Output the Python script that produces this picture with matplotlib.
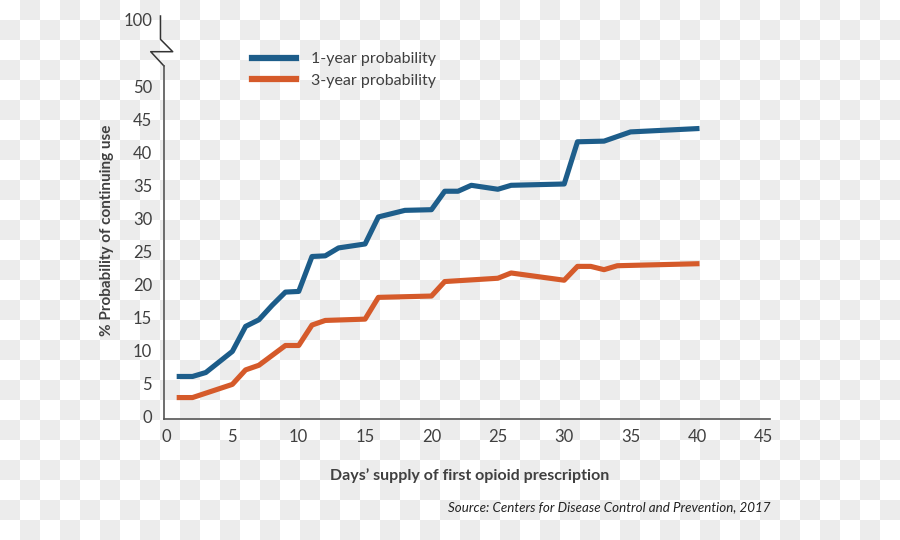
import numpy as np
import matplotlib
matplotlib.use("Agg")
import matplotlib.pyplot as plt

plt.rcParams['font.family'] = ['Lato', 'DejaVu Sans']

# days' supply -> % probability of continuing use
days_1yr = [1, 2, 3, 5, 6, 7, 8, 9, 10, 11, 12, 13, 15, 16, 18, 20, 21, 22, 23, 25, 26, 30, 31, 33, 35, 40]
prob_1yr = [6.0, 6.0, 6.6, 9.8, 13.6, 14.6, 16.8, 18.8, 18.9, 24.2, 24.3, 25.5, 26.1, 30.2, 31.2, 31.3,
            34.1, 34.1, 35.0, 34.4, 35.0, 35.2, 41.6, 41.7, 43.1, 43.6]

days_3yr = [1, 2, 5, 6, 7, 9, 10, 11, 12, 15, 16, 20, 21, 25, 26, 30, 31, 32, 33, 34, 40]
prob_3yr = [2.8, 2.8, 4.8, 7.0, 7.7, 10.7, 10.7, 13.8, 14.5, 14.7, 18.0, 18.2, 20.4, 20.9, 21.7, 20.6,
            22.7, 22.7, 22.2, 22.8, 23.1]

x_ticks = [0, 5, 10, 15, 20, 25, 30, 35, 40, 45]
y_ticks = [0, 5, 10, 15, 20, 25, 30, 35, 40, 45, 50]

blue = '#1d5d8a'
orange = '#d55a2a'
txt = '#404040'

fig = plt.figure(figsize=(9, 5.4), dpi=100)

# checkered background
rows, cols = np.indices((540, 900))
bg = np.where((rows // 20 + cols // 20) % 2 == 1, 0.922, 1.0)
fig.figimage(bg, cmap='gray', vmin=0, vmax=1, zorder=-10)

ax = fig.add_axes([0.1822, 0.2241, 0.6733, 0.6537])
ax.set_facecolor('none')

l1, = ax.plot(days_1yr, prob_1yr, color=blue, lw=3.7, label='1-year probability')
l2, = ax.plot(days_3yr, prob_3yr, color=orange, lw=3.7, label='3-year probability')

ax.set_xlim(-0.15, 45.5)
ax.set_ylim(-0.45, 53.1)
ax.set_xticks(x_ticks)
ax.set_yticks(y_ticks)
ax.tick_params(length=0, labelsize=12, labelcolor=txt)
ax.tick_params(axis='y', pad=8.5)
ax.tick_params(axis='x', pad=7)

for s in ['top', 'right']:
    ax.spines[s].set_visible(False)
for s in ['left', 'bottom']:
    ax.spines[s].set_color('#555555')
    ax.spines[s].set_linewidth(1.2)

# axis break up to 100
ax.plot([0, -0.0219, 0.0144, -0.0058, -0.0058], [1.0, 1.0405, 1.0405, 1.0756, 1.1416],
        transform=ax.transAxes, clip_on=False, color='#333333', lw=1.1)
ax.text(-0.0198, 1.1275, '100', transform=ax.transAxes, ha='right', va='center',
        fontsize=12, color=txt)

ax.legend(handles=[l1, l2], loc='upper left', bbox_to_anchor=(252 / 900, 1 - 52 / 540),
          bbox_transform=fig.transFigure, frameon=False, borderpad=0, borderaxespad=0,
          handlelength=2.75, handletextpad=0.95, labelspacing=0.45, fontsize=11.5,
          labelcolor=txt)
for h in ax.get_legend().legend_handles:
    h.set_linewidth(4.5)

fig.text(470 / 900, 1 - 476 / 540, "Days\u2019 supply of first opioid prescription",
         ha='center', va='center', fontsize=11.5, fontweight='bold', color=txt)
fig.text(107 / 900, 1 - 230 / 540, '% Probability of continuing use', rotation=90,
         ha='center', va='center', fontsize=11, fontweight='bold', color=txt)
fig.text(770 / 900, 1 - 507 / 540, 'Source: Centers for Disease Control and Prevention, 2017',
         ha='right', va='center', fontsize=9.6, style='italic', color='#222222')

fig.savefig('out.png', dpi=100)
